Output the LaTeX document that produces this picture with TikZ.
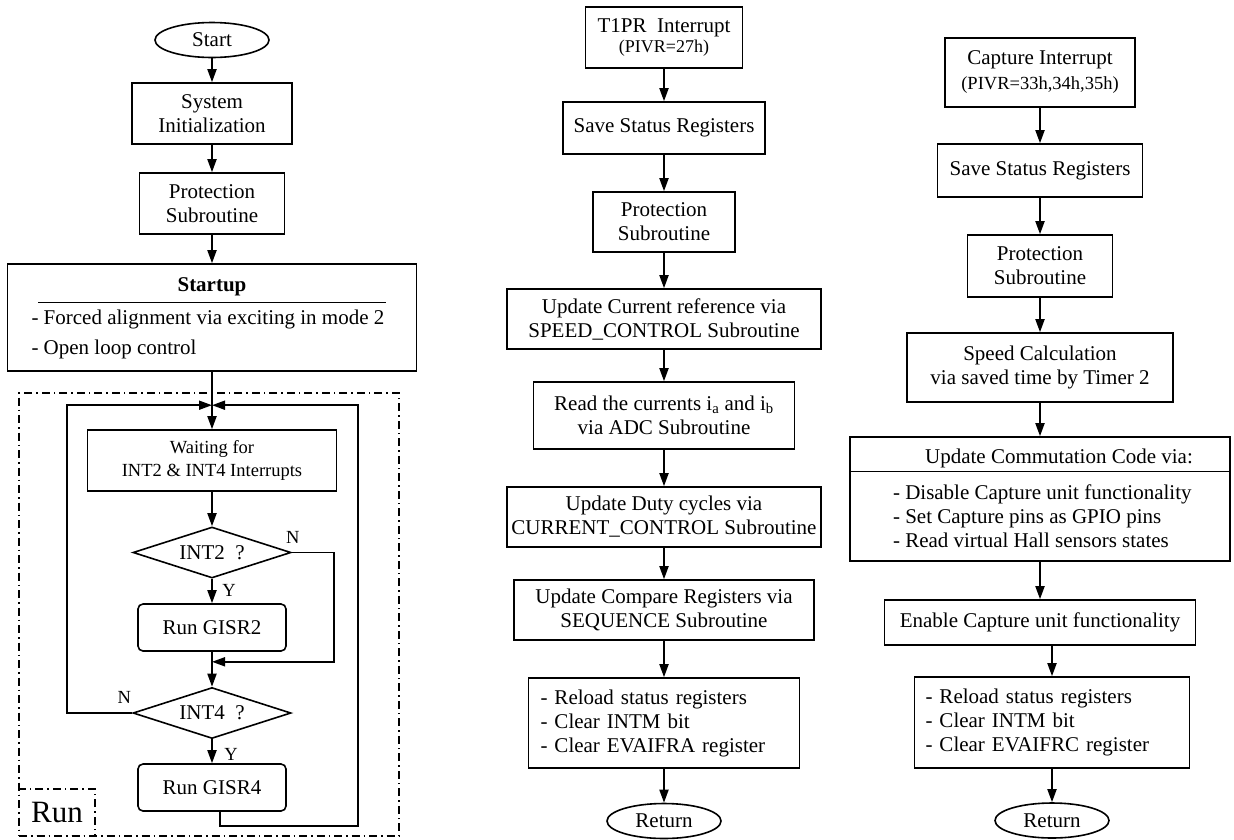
\documentclass[tikz,border=0pt]{standalone}
\usepackage{fontspec}
\setmainfont{Liberation Serif}
\usetikzlibrary{shapes.geometric, arrows.meta, positioning}

\begin{document}
\begin{tikzpicture}[x=1pt, y=-1pt, line width=1.6pt,
  >={Triangle[length=13pt,width=9pt]},
  every node/.style={font=\fontsize{21}{24}\selectfont},
  proc/.style={rectangle, draw, inner sep=2pt, align=center},
  listbox/.style={rectangle, draw, align=left},
  term/.style={ellipse, draw, inner sep=0pt, minimum width=114pt, minimum height=35pt},
  decision/.style={diamond, draw, aspect=3, inner sep=0pt, minimum width=158pt, minimum height=51pt},
  subr/.style={rectangle, rounded corners=5pt, draw, minimum width=148pt, minimum height=47pt},
  lbl/.style={inner sep=0pt, font=\fontsize{18.5}{20}\selectfont},
  runframe/.style={draw, dash pattern=on 8pt off 4pt on 1.5pt off 4pt},
  flow/.style={->, line width=1.8pt}]
\useasboundingbox (0,0) rectangle (1234,839);

% main program
\node[term] (start) at (212,40) {Start};
\node[proc, below of=start, node distance=73.5pt, minimum width=160pt, minimum height=61pt] (sysinit) {System\\Initialization};
\node[proc, below of=sysinit, node distance=90pt, minimum width=145pt, minimum height=61pt] (prot) {Protection\\Subroutine};
\node[proc, below of=prot, node distance=114pt, minimum width=409pt, minimum height=107pt] (startup) {};
\node[anchor=north, inner sep=0pt, text width=346pt, align=center, yshift=-14pt] (startuptitle) at (startup.north) {\textbf{Startup}};
\node[anchor=north west, inner sep=0pt, align=left, xshift=24pt, yshift=-46pt] (startupitems) at (startup.north west) {- Forced alignment via exciting in mode 2\\[6pt]- Open loop control};
\node[proc, below of=startup, node distance=143pt, minimum width=249pt, minimum height=61pt, font=\fontsize{18.5}{23}\selectfont] (waiting) {Waiting for\\INT2 \& INT4 Interrupts};
\node[decision, below of=waiting, node distance=92pt] (int2) {INT2\ \ ?};
\node[subr, below of=int2, node distance=75pt] (gisr2) {Run GISR2};
\node[decision, below of=gisr2, node distance=85.5pt] (int4) {INT4\ \ ?};
\node[subr, below of=int4, node distance=74.5pt] (gisr4) {Run GISR4};

\node[lbl] (n2) at ([xshift=1pt,yshift=15pt]int2.east) {N};
\node[lbl] (y2) at ([xshift=17pt,yshift=-12pt]int2.south) {Y};
\node[lbl] (n4) at ([xshift=-8pt,yshift=16pt]int4.west) {N};
\node[lbl] (y4) at ([xshift=19pt,yshift=-15pt]int4.south) {Y};

\node[runframe, minimum width=380pt, minimum height=443pt] (runbox) at (209,614.5) {};
\node[runframe, anchor=south west, inner sep=0pt, minimum width=76pt, minimum height=47pt, font=\fontsize{31}{31}\selectfont] (runlbl) at (runbox.south west) {Run};

\coordinate (merge) at ([yshift=24pt]waiting.north);
\coordinate (loopL) at ([xshift=-145pt]merge);
\coordinate (loopR) at ([xshift=146pt]merge);
\coordinate (skip2) at ([xshift=42pt]int2.east);
\coordinate (join2) at ([yshift=-10pt]gisr2.south);
\coordinate (exit4) at ([xshift=8pt]gisr4.south);
\coordinate (loopB) at ([yshift=-14pt]exit4);

\draw[line width=1.3pt] ([yshift=-5pt]startuptitle.south west) -- ([yshift=-5pt]startuptitle.south east);

\draw[flow] (start) -- (sysinit);
\draw[flow] (sysinit) -- (prot);
\draw[flow] (prot) -- (startup);
\draw[flow] (startup) -- (waiting);
\draw[flow] (waiting) -- (int2);
\draw[flow] (int2) -- (gisr2);
\draw[flow] (gisr2) -- (int4);
\draw[flow] (int4) -- (gisr4);
\draw[flow] (int2.east) -- (skip2) |- (join2);
\draw[flow] (int4.west) -| (loopL) -- (merge);
\draw[flow] (exit4) -- (loopB) -| (loopR) -- (merge);

% T1PR interrupt
\node[proc, minimum width=157pt, minimum height=61pt] (tpr) at (664,37.5) {T1PR\ \ Interrupt\\[-4pt]{\fontsize{18}{20}\selectfont (PIVR=27h)}};
\node[proc, below of=tpr, node distance=90.5pt, minimum width=202pt, minimum height=52pt] (tsave) {Save Status Registers};
\node[proc, below of=tsave, node distance=94pt, minimum width=142pt, minimum height=60pt] (tprot) {Protection\\Subroutine};
\node[proc, below of=tprot, node distance=97pt, minimum width=314pt, minimum height=60pt] (tspeed) {Update Current reference via\\SPEED\_CONTROL Subroutine};
\node[proc, below of=tspeed, node distance=96.5pt, minimum width=261pt, minimum height=67pt] (tadc) {Read the currents i\textsubscript{a} and i\textsubscript{b}\\via ADC Subroutine};
\node[proc, below of=tadc, node distance=101.5pt, minimum width=314pt, minimum height=60pt, inner xsep=0pt] (tduty) {Update Duty cycles via\\CURRENT\_CONTROL Subroutine};
\node[proc, below of=tduty, node distance=93pt, minimum width=300pt, minimum height=60pt] (tseq) {Update Compare Registers via\\SEQUENCE Subroutine};
\node[listbox, below of=tseq, node distance=113pt, text width=247pt, inner xsep=12pt, minimum height=90pt] (treload) {- Reload status registers\\- Clear INTM bit\\- Clear EVAIFRA register};
\node[term, below of=treload, node distance=98pt] (tret) {Return};

\draw[flow] (tpr) -- (tsave);
\draw[flow] (tsave) -- (tprot);
\draw[flow] (tprot) -- (tspeed);
\draw[flow] (tspeed) -- (tadc);
\draw[flow] (tadc) -- (tduty);
\draw[flow] (tduty) -- (tseq);
\draw[flow] (tseq) -- (treload);
\draw[flow] (treload) -- (tret);

% capture interrupt
\node[proc, minimum width=190pt, minimum height=69pt] (cap) at (1040,72.5) {Capture Interrupt\\[1pt]{\fontsize{18.5}{20}\selectfont (PIVR=33h,34h,35h)}};
\node[proc, below of=cap, node distance=98pt, minimum width=205pt, minimum height=53pt] (csave) {Save Status Registers};
\node[proc, below of=csave, node distance=95.5pt, minimum width=145pt, minimum height=62pt] (cprot) {Protection\\Subroutine};
\node[proc, below of=cprot, node distance=101.5pt, minimum width=266pt, minimum height=69pt] (cspeed) {Speed Calculation\\via saved time by Timer 2};
\node[proc, below of=cspeed, node distance=131.5pt, minimum width=380pt, minimum height=124pt] (commut) {};
\node[anchor=north, inner sep=0pt, text height=15pt, text depth=8pt, xshift=19pt, yshift=-11pt] (commuthead) at (commut.north) {Update Commutation Code via:};
\node[anchor=north west, inner sep=0pt, align=left, xshift=43pt, yshift=-12pt] (commutbody) at (commut.west |- commuthead.south) {- Disable Capture unit functionality\\- Set Capture pins as GPIO pins\\- Read virtual Hall sensors states};
\node[proc, below of=commut, node distance=123.5pt, minimum width=311pt, minimum height=45pt] (cenable) {Enable Capture unit functionality};
\node[listbox, below of=cenable, node distance=100pt, xshift=12pt, text width=253pt, inner xsep=11pt, minimum height=91pt] (creload) {- Reload status registers\\- Clear INTM bit\\- Clear EVAIFRC register};
\node[term, below of=creload, node distance=98pt] (cret) {Return};

\draw[line width=1pt] (commut.west |- commuthead.south) -- (commut.east |- commuthead.south);

\draw[flow] (cap) -- (csave);
\draw[flow] (csave) -- (cprot);
\draw[flow] (cprot) -- (cspeed);
\draw[flow] (cspeed) -- (commut);
\draw[flow] (commut) -- (cenable);
\draw[flow] (cenable.south -| creload) -- (creload);
\draw[flow] (creload) -- (cret);
\end{tikzpicture}
\end{document}
